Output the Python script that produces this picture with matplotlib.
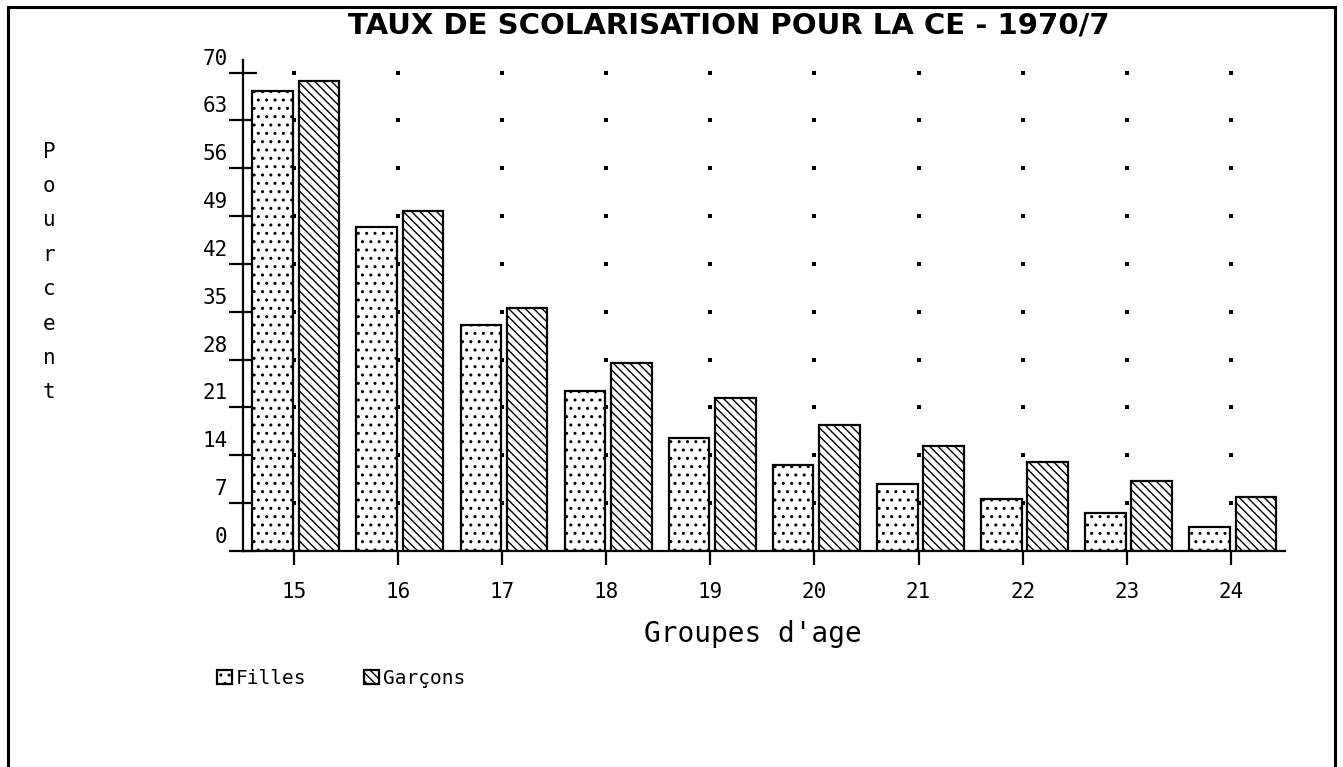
import numpy as np
import matplotlib
matplotlib.use("Agg")
import matplotlib.pyplot as plt
from matplotlib.patches import Rectangle
from matplotlib.transforms import ScaledTranslation

# Taux de scolarisation (%) par groupe d'age
groupes_age = [15, 16, 17, 18, 19, 20, 21, 22, 23, 24]
filles = [67.3, 47.4, 33.0, 23.4, 16.5, 12.6, 9.8, 7.6, 5.6, 3.5]
garcons = [68.8, 49.7, 35.5, 27.5, 22.4, 18.4, 15.3, 13.0, 10.2, 7.9]
graduations_y = list(range(0, 71, 7))

plt.rcParams['font.family'] = 'DejaVu Sans Mono'
plt.rcParams['hatch.linewidth'] = 1.0

W, H = 1343, 767
fig = plt.figure(figsize=(W / 100, H / 100), dpi=100)
ax = fig.add_axes([243 / W, 1 - 551 / H, (1285 - 243) / W, (551 - 60) / H])

x = np.array(groupes_age)
ax.bar(x - 0.40, filles, width=0.39, align='edge', color='white',
       edgecolor='black', linewidth=1.6, hatch='..', label='Filles', zorder=2)
ax.bar(x + 0.045, garcons, width=0.39, align='edge', color='white',
       edgecolor='black', linewidth=1.6, hatch='\\\\\\\\', label='Garçons', zorder=2)

# grille de points aux graduations
gx, gy = np.meshgrid(x, graduations_y[1:])
ax.scatter(gx.ravel(), gy.ravel(), s=6, color='black', marker='s',
           linewidths=0, zorder=1)

ax.set_xlim(14.51, 24.52)
ax.set_ylim(0, 71.85)
ax.set_xticks(x)
ax.set_yticks(graduations_y)
for cote in ['top', 'right']:
    ax.spines[cote].set_visible(False)
for cote in ['left', 'bottom']:
    ax.spines[cote].set_linewidth(1.6)
ax.tick_params(axis='y', direction='inout', length=20, width=1.6, labelsize=15, pad=1)
ax.tick_params(axis='x', direction='out', length=10, width=1.6, labelsize=15, pad=12)

# les chiffres de l'axe Y sont un peu au-dessus des graduations
decalage = ScaledTranslation(0, 0.16, fig.dpi_scale_trans)
for lab in ax.get_yticklabels():
    lab.set_transform(lab.get_transform() + decalage)

fig.text(729 / W, 1 - 25 / H, 'TAUX DE SCOLARISATION POUR LA CE - 1970/7',
         ha='center', va='center', fontsize=21, fontweight='bold',
         family='DejaVu Sans')
fig.text(49 / W, 1 - 272 / H, '\n'.join('Pourcent'), ha='center', va='center',
         fontsize=15, linespacing=1.9)
fig.text(753 / W, 1 - 634 / H, "Groupes d'age", ha='center', va='center', fontsize=20)

fig.legend(loc='center left', bbox_to_anchor=(217 / W, 1 - 678 / H), ncol=2,
           frameon=False, fontsize=14, handlelength=0.75, handleheight=0.75,
           handletextpad=0.2, columnspacing=3.0, borderpad=0, borderaxespad=0)

# cadre autour de la page
fig.add_artist(Rectangle((8 / W, -0.1), (1335 - 8) / W, 1.1 - 7 / H,
                         transform=fig.transFigure, fill=False, lw=2.2,
                         ec='black', clip_on=False))

fig.savefig('out.png', dpi=100)
